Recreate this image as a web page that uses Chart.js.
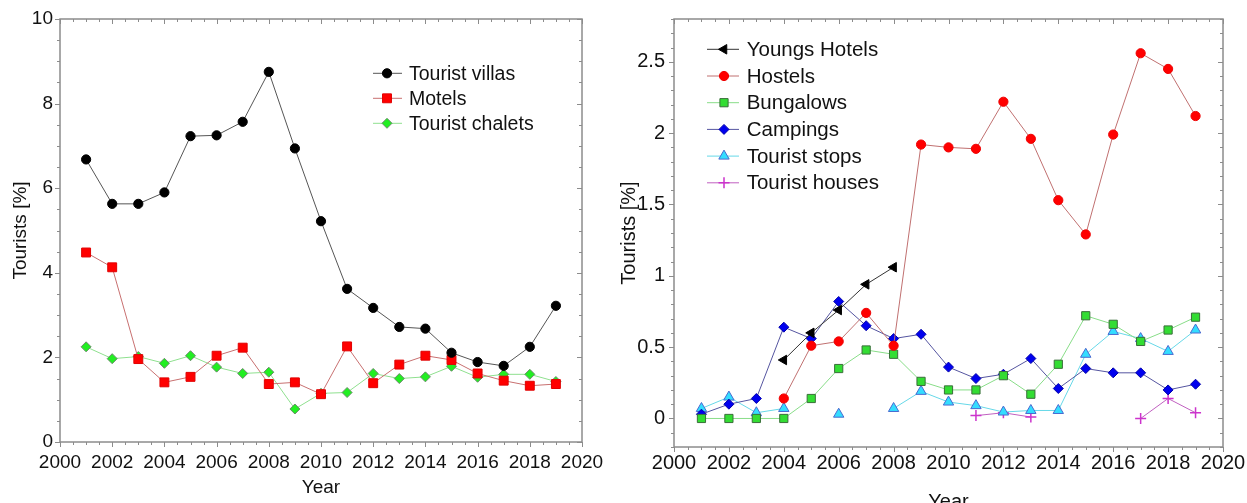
<!DOCTYPE html>
<html>
<head>
<meta charset="utf-8">
<script src="https://cdn.jsdelivr.net/npm/chart.js@4/dist/chart.umd.min.js"></script>
<style>
  body { margin:0; background:#fff; width:1247px; height:503px; overflow:hidden; position:relative; }
  .box { position:absolute; top:0; }
  #left { left:0; }
  #right { left:600px; }
</style>
</head>
<body>
<div class="box" id="left"><canvas id="c1" width="620" height="503"></canvas></div>
<div class="box" id="right"><canvas id="c2" width="647" height="520"></canvas></div>
<script>
// years and tick labels
const years = [2001,2002,2003,2004,2005,2006,2007,2008,2009,2010,2011,2012,2013,2014,2015,2016,2017,2018,2019];
const xTickYears = [2000,2002,2004,2006,2008,2010,2012,2014,2016,2018,2020];
const leftYTicks = [0,2,4,6,8,10];
const rightYTicks = [0,0.5,1,1.5,2,2.5];

// left panel (%)
const touristVillas = [6.68,5.63,5.63,5.9,7.23,7.25,7.57,8.75,6.94,5.22,3.62,3.17,2.72,2.68,2.11,1.89,1.8,2.25,3.22];
const motels        = [4.48,4.13,1.96,1.41,1.54,2.04,2.23,1.37,1.41,1.13,2.26,1.39,1.83,2.04,1.94,1.62,1.45,1.33,1.37];
const touristChalets= [2.25,1.97,2.02,1.86,2.04,1.77,1.62,1.65,0.78,1.15,1.17,1.62,1.5,1.54,1.79,1.53,1.6,1.6,1.43];

// right panel (%)
const youngsHotels  = [null,null,null,0.41,0.6,0.76,0.94,1.06,null,null,null,null,null,null,null,null,null,null,null];
const hostels       = [null,null,null,0.14,0.51,0.54,0.74,0.51,1.92,1.9,1.89,2.22,1.96,1.53,1.29,1.99,2.56,2.45,2.12];
const bungalows     = [0,0,0,0,0.14,0.35,0.48,0.45,0.26,0.2,0.2,0.3,0.17,0.38,0.72,0.66,0.54,0.62,0.71];
const campings      = [0.03,0.1,0.14,0.64,0.56,0.82,0.65,0.56,0.59,0.36,0.28,0.31,0.42,0.21,0.35,0.32,0.32,0.2,0.24];
const touristStops  = [0.07,0.15,0.04,0.07,null,0.03,null,0.07,0.19,0.115,0.09,0.045,0.056,0.056,0.45,0.61,0.56,0.47,0.62];
const touristHouses = [null,null,null,null,null,null,null,null,null,null,0.02,0.04,0.01,null,null,null,0,0.14,0.04];

const FONT = "'Liberation Sans', Arial, sans-serif";
const toPoints = vals => years.map((x,i)=>({x:x, y:vals[i]}));

// frame + ticks (x ticks point down, y ticks point left, like the original)
const frameTicks = {
  id:'frameTicks',
  beforeDatasetsDraw(chart, args, o){
    const {ctx, chartArea:a, scales:{x, y}} = chart;
    ctx.save();
    ctx.strokeStyle = '#8c8c8c';
    ctx.lineWidth = 1;
    ctx.beginPath();
    let n = Math.round((x.max - x.min)/o.xMinor);
    for(let k=0;k<=n;k++){
      let v = x.min + k*o.xMinor;
      let q = v/o.xMajor, len = Math.abs(q-Math.round(q))<1e-6 ? 5 : 3;
      let px = Math.round(x.getPixelForValue(v))+0.5;
      ctx.moveTo(px, a.bottom); ctx.lineTo(px, a.bottom+len);
      ctx.moveTo(px, a.top); ctx.lineTo(px, a.top+len);
    }
    n = Math.round((y.max - y.min)/o.yMinor);
    for(let k=0;k<=n;k++){
      let v = y.min + k*o.yMinor;
      let q = v/o.yMajor, len = Math.abs(q-Math.round(q))<1e-6 ? 5 : 3;
      let py = Math.round(y.getPixelForValue(v))+0.5;
      ctx.moveTo(a.left, py); ctx.lineTo(a.left-len, py);
      ctx.moveTo(a.right, py); ctx.lineTo(a.right-len, py);
    }
    ctx.stroke();
    ctx.lineWidth = 1.5;
    ctx.strokeRect(a.left, a.top, a.right-a.left, a.bottom-a.top);
    ctx.restore();
  }
};

// legend drawn inside the plot
const insideLegend = {
  id:'insideLegend',
  afterDraw(chart, args, o){
    const ctx = chart.ctx;
    ctx.save();
    ctx.font = o.font;
    ctx.textBaseline = 'middle';
    ctx.fillStyle = '#111';
    chart.data.datasets.forEach((ds,i)=>{
      const yy = o.y0 + i*o.dy;
      ctx.strokeStyle = ds.borderColor;
      ctx.lineWidth = 1;
      ctx.beginPath(); ctx.moveTo(o.x0, yy); ctx.lineTo(o.x1, yy); ctx.stroke();
      ctx.fillStyle = ds.pointBackgroundColor;
      ctx.strokeStyle = ds.pointBorderColor;
      ctx.lineWidth = ds.pointBorderWidth;
      Chart.helpers.drawPoint(ctx, {pointStyle:ds.pointStyle, rotation:ds.pointRotation||0, radius:ds.pointRadius, borderWidth:ds.pointBorderWidth}, o.mx, yy);
      ctx.fillStyle = '#111';
      ctx.fillText(ds.label, o.tx, yy+1);
    });
    ctx.restore();
  }
};

function series(label, vals, line, fill, border, style, r, extra){
  return Object.assign({
    label:label, data:toPoints(vals), borderColor:line, borderWidth:1,
    pointBackgroundColor:fill, pointBorderColor:border, pointBorderWidth:1,
    pointStyle:style, pointRadius:r, pointHoverRadius:r, spanGaps:false, tension:0
  }, extra||{});
}

function axes(opt){
  return {
    x:{
      type:'linear', min:2000, max:2020,
      afterBuildTicks: s => { s.ticks = xTickYears.map(v=>({value:v})); },
      afterFit: s => { s.height = opt.xh; s.paddingLeft = 0; s.paddingRight = 0; },
      grid:{display:false, drawTicks:false}, border:{display:false},
      ticks:{color:'#111', font:{family:FONT, size:opt.fs}, padding:opt.xpad, maxRotation:0, callback:v=>String(v)},
      title:{display:true, text:'Year', color:'#111', font:{family:FONT, size:opt.fs}, padding:{top:0, bottom:opt.tb}}
    },
    y:{
      type:'linear', min:opt.ymin, max:opt.ymax,
      afterBuildTicks: s => { s.ticks = opt.yt.map(v=>({value:v})); },
      afterFit: s => { s.width = opt.yw; s.paddingTop = 0; s.paddingBottom = 0; },
      grid:{display:false, drawTicks:false}, border:{display:false},
      ticks:{color:'#111', font:{family:FONT, size:opt.fs}, padding:opt.ypad, callback:v=>String(v)},
      title:{display:true, text:'Tourists [%]', color:'#111', font:{family:FONT, size:opt.fs}, padding:{top:opt.tl, bottom:0}}
    }
  };
}

new Chart(document.getElementById('c1'), {
  type:'line',
  data:{datasets:[
    series('Tourist villas', touristVillas, '#555555', '#000000', '#000000', 'circle', 4.6),
    series('Motels', motels, '#c87070', '#ff0000', '#e00000', 'rect', 6.3),
    series('Tourist chalets', touristChalets, '#8fe08f', '#22ee22', '#6a8a6a', 'rectRot', 5)
  ]},
  options:{
    responsive:false, animation:false,
    layout:{padding:{top:19, right:38, left:0, bottom:0}},
    scales:axes({xh:61, yw:60, fs:19, xpad:9, ypad:7, tb:4, tl:9, ymin:0, ymax:10, yt:leftYTicks}),
    plugins:{
      legend:{display:false}, tooltip:{enabled:false},
      frameTicks:{xMinor:0.5, xMajor:2, yMinor:0.5, yMajor:2},
      insideLegend:{x0:373, x1:402, mx:387, tx:409, y0:73.3, dy:25, font:'19.5px '+FONT}
    }
  },
  plugins:[frameTicks, insideLegend]
});

new Chart(document.getElementById('c2'), {
  type:'line',
  data:{datasets:[
    series('Youngs Hotels', youngsHotels, '#333333', '#000000', '#000000', 'triangle', 5.5, {pointRotation:-90}),
    series('Hostels', hostels, '#c07070', '#ff0000', '#ee0000', 'circle', 4.6),
    series('Bungalows', bungalows, '#88dd88', '#33dd33', '#3a6e3a', 'rect', 5.8),
    series('Campings', campings, '#5555a0', '#0000ee', '#0000aa', 'rectRot', 5),
    series('Tourist stops', touristStops, '#66d8e8', '#33ddff', '#4a6ad0', 'triangle', 6),
    series('Tourist houses', touristHouses, '#c060c0', '#cc33cc', '#cc33cc', 'cross', 5.5, {pointBorderWidth:1.5})
  ]},
  options:{
    responsive:false, animation:false,
    layout:{padding:{top:19, right:24, left:0, bottom:0}},
    scales:axes({xh:73, yw:74, fs:20, xpad:4, ypad:9, tb:6, tl:17, ymin:-0.2, ymax:2.8, yt:rightYTicks}),
    plugins:{
      legend:{display:false}, tooltip:{enabled:false},
      frameTicks:{xMinor:0.5, xMajor:2, yMinor:0.1, yMajor:0.5},
      insideLegend:{x0:107, x1:139, mx:124, tx:146.7, y0:49.3, dy:26.7, font:'20.5px '+FONT}
    }
  },
  plugins:[frameTicks, insideLegend]
});
</script>
</body>
</html>
